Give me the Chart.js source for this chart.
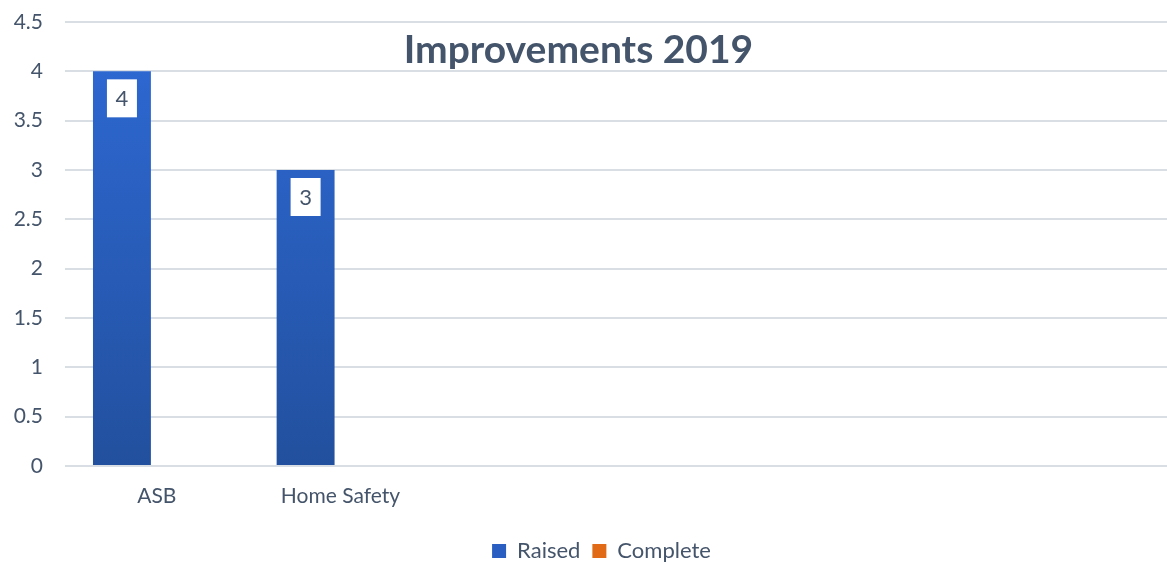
<!DOCTYPE html>
<html>
<head>
<meta charset="utf-8">
<script src="https://cdn.jsdelivr.net/npm/chart.js@4/dist/chart.umd.min.js"></script>
<style>
  html, body { margin: 0; padding: 0; background: #fff; }
  #wrap { width: 1167px; height: 562px; }
</style>
</head>
<body>
<div id="wrap"><canvas id="improvementsChart"></canvas></div>
<script>
// chart data
const categories = ["ASB", "Home Safety", "", "", "", ""];
const raised = [4, 3, null, null, null, null];
const complete = [0, 0, null, null, null, null];
const yTicks = [0, 0.5, 1, 1.5, 2, 2.5, 3, 3.5, 4, 4.5];

const textColor = "#44546A";
const fontName = "Lato, 'Open Sans', sans-serif";

function barGradient(ctx, top, bottom) {
    const chart = ctx.chart;
    const area = chart.chartArea;
    if (!area) return top;
    let g = chart.ctx.createLinearGradient(0, area.top, 0, area.bottom);
    g.addColorStop(0, top);
    g.addColorStop(1, bottom);
    return g;
}

// overlay title, drawn over the plot like in excel
const titlePlugin = {
    id: "overlayTitle",
    afterLayout(chart) {
        // excel centres the legend a bit right of the canvas centre
        if (chart.legend) chart.legend.left += 36;
    },
    afterDraw(chart) {
        const c = chart.ctx;
        c.save();
        c.font = "bold 39px " + fontName;
        c.fillStyle = textColor;
        c.textAlign = "center";
        c.textBaseline = "middle";
        c.fillText("Improvements 2019", chart.width / 2 - 5, 50);
        c.restore();
    }
};

// white boxed value labels near the top of each bar
const labelPlugin = {
    id: "boxLabels",
    afterDatasetsDraw(chart) {
        const c = chart.ctx;
        const meta = chart.getDatasetMeta(0);
        c.save();
        c.font = "22px " + fontName;
        c.textAlign = "center";
        c.textBaseline = "middle";
        meta.data.forEach((bar, i) => {
            const v = raised[i];
            if (v === null || v === 0) return;
            const cy = bar.y + 27;
            c.fillStyle = "#ffffff";
            c.fillRect(bar.x - 15, cy - 19, 30, 38);
            c.fillStyle = textColor;
            c.fillText(String(v), bar.x, cy + 1);
        });
        c.restore();
    }
};

const chart = new Chart(document.getElementById("improvementsChart"), {
    type: "bar",
    data: {
        labels: categories,
        datasets: [
            {
                label: "Raised",
                data: raised,
                backgroundColor: ctx => barGradient(ctx, "#2E6AD6", "#22509E"),
                borderWidth: 0,
                categoryPercentage: 0.76,
                barPercentage: 0.83
            },
            {
                label: "Complete",
                data: complete,
                backgroundColor: ctx => barGradient(ctx, "#F47A1F", "#C55A11"),
                borderWidth: 0,
                categoryPercentage: 0.76,
                barPercentage: 0.83
            }
        ]
    },
    options: {
        responsive: true,
        maintainAspectRatio: false,
        animation: false,
        layout: { padding: { top: 22, right: 0, left: 0, bottom: -10 } },
        plugins: {
            title: { display: false },
            tooltip: { enabled: false },
            legend: {
                position: "bottom",
                labels: {
                    color: textColor,
                    font: { family: fontName, size: 22 },
                    boxWidth: 14,
                    boxHeight: 14,
                    padding: 12,
                    generateLabels(chart) {
                        const cols = ["#2A5EC0", "#E06A16"];
                        return chart.data.datasets.map((ds, i) => ({
                            text: ds.label,
                            fillStyle: cols[i],
                            strokeStyle: cols[i],
                            lineWidth: 0,
                            fontColor: textColor,
                            datasetIndex: i,
                            hidden: false
                        }));
                    }
                }
            }
        },
        scales: {
            x: {
                grid: { display: false },
                border: { display: false },
                afterFit(scale) { scale.height = 62; },
                ticks: {
                    color: textColor,
                    font: { family: fontName, size: 21 },
                    padding: 10,
                    maxRotation: 0
                }
            },
            y: {
                min: 0,
                max: 4.5,
                afterBuildTicks(scale) {
                    scale.ticks = yTicks.map(v => ({ value: v }));
                },
                afterFit(scale) {
                    scale.width = 65;
                    scale.paddingTop = 0;
                    scale.paddingBottom = 0;
                },
                grid: { color: "#D9DEE5", lineWidth: 2, drawTicks: false },
                border: { display: false },
                ticks: {
                    color: textColor,
                    font: { family: fontName, size: 21 },
                    padding: 22,
                    callback: v => String(v)
                }
            }
        }
    },
    plugins: [titlePlugin, labelPlugin]
});
</script>
</body>
</html>
